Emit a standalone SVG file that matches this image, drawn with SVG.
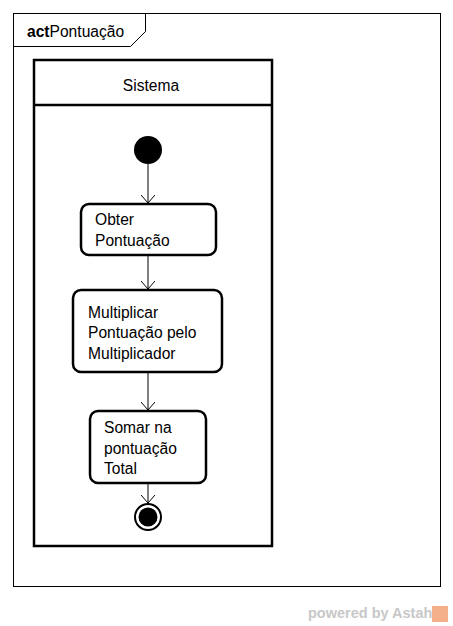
<svg xmlns="http://www.w3.org/2000/svg" width="453" height="626" viewBox="0 0 453 626">
<style>
text{font-family:"Liberation Sans",Arial,sans-serif;font-size:15.6px;fill:#000}
.act{fill:#fff;stroke:#000;stroke-width:2.5}
.edge{stroke:#000;stroke-width:1;fill:none}
</style>
<defs>
<marker id="arr" markerWidth="12" markerHeight="14" refX="8" refY="7" orient="auto" markerUnits="userSpaceOnUse">
<path d="M0,0 L8,7 L0,14" fill="none" stroke="#000" stroke-width="1"/>
</marker>
</defs>
<rect width="453" height="626" fill="#fff"/>
<g id="frame">
<rect x="13.5" y="13.5" width="427" height="573" fill="none" stroke="#000" stroke-width="1"/>
<path d="M13.5,46.5 H130.5 L145.5,31.5 V13.5" fill="none" stroke="#000" stroke-width="1"/>
<text x="27" y="37"><tspan font-weight="bold">act</tspan>Pontuação</text>
</g>
<g id="lane">
<rect x="34" y="60" width="238" height="486" fill="none" stroke="#000" stroke-width="2.5"/>
<line x1="34" y1="105" x2="272" y2="105" stroke="#000" stroke-width="2.5"/>
<text x="151" y="91" text-anchor="middle">Sistema</text>
</g>
<g id="edges">
<line class="edge" x1="148" y1="164" x2="148" y2="203" marker-end="url(#arr)"/>
<line class="edge" x1="148" y1="256" x2="148" y2="289" marker-end="url(#arr)"/>
<line class="edge" x1="148" y1="373" x2="148" y2="410" marker-end="url(#arr)"/>
<line class="edge" x1="148" y1="484" x2="148" y2="503" marker-end="url(#arr)"/>
</g>
<g id="initial">
<circle cx="148" cy="150" r="14" fill="#000"/>
</g>
<g id="obter">
<rect class="act" x="81" y="204" width="135" height="51" rx="8"/>
<text x="95" y="225">Obter</text>
<text x="95" y="246">Pontuação</text>
</g>
<g id="multiplicar">
<rect class="act" x="73" y="290" width="149" height="82" rx="8"/>
<text x="88" y="318">Multiplicar</text>
<text x="88" y="338">Pontuação pelo</text>
<text x="88" y="359">Multiplicador</text>
</g>
<g id="somar">
<rect class="act" x="90" y="411" width="116" height="72" rx="8"/>
<text x="104" y="433">Somar na</text>
<text x="104" y="454">pontuação</text>
<text x="104" y="474">Total</text>
</g>
<g id="final">
<circle cx="148" cy="517" r="13" fill="#fff" stroke="#000" stroke-width="2"/>
<circle cx="148" cy="517" r="9.5" fill="#000"/>
</g>
<g id="watermark">
<text x="308" y="618" style="font-size:14.5px;font-weight:bold;fill:#c8c8c8">powered by Astah</text>
<rect x="432" y="606" width="16" height="16" fill="#f4b08a"/>
</g>
</svg>
